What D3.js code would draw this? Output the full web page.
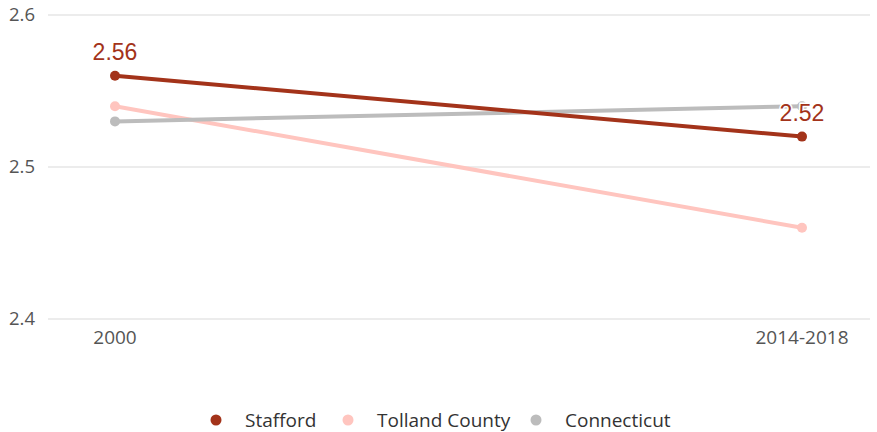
<!DOCTYPE html>
<html><head><meta charset="utf-8">
<script src="https://cdn.jsdelivr.net/npm/d3@7"></script>
<style>body{margin:0;background:#fff}</style>
</head><body><svg id="c" width="877" height="432"></svg>
<script>
const periods = ["2000", "2014-2018"];
const seriesNames = ["Stafford", "Tolland County", "Connecticut"];
const stafford = [2.56, 2.52];
const tolland = [2.54, 2.46];
const connecticut = [2.53, 2.54];
const yTicks = [2.4, 2.5, 2.6];
const colors = ["#a3331a", "#ffc5bf", "#bcbcbc"];

const series = [
  {name: seriesNames[0], values: stafford, color: colors[0], label: true},
  {name: seriesNames[1], values: tolland, color: colors[1]},
  {name: seriesNames[2], values: connecticut, color: colors[2]}
];

const svg = d3.select("#c");
const x = d3.scalePoint().domain(periods).range([115, 802]);
const y = d3.scaleLinear().domain([2.4, 2.6]).range([319, 15]);

svg.append("g").selectAll("line").data(yTicks).join("line")
  .attr("x1", 48).attr("x2", 870)
  .attr("y1", d => y(d)).attr("y2", d => y(d))
  .attr("stroke", "#e6e6e6").attr("stroke-width", 1.5);

svg.append("g").selectAll("text").data(yTicks).join("text")
  .attr("x", 35).attr("y", d => y(d)).attr("dy", "0.35em")
  .attr("text-anchor", "end")
  .attr("font-family", "Open Sans").attr("font-size", 18.5).attr("fill", "#555")
  .text(d => d3.format(".1f")(d));

svg.append("g").selectAll("text").data(periods).join("text")
  .attr("x", d => x(d)).attr("y", 344)
  .attr("text-anchor", "middle")
  .attr("font-family", "Open Sans").attr("font-size", 19).attr("fill", "#555")
  .text(d => d);

const line = d3.line().x((d, i) => x(periods[i])).y(d => y(d));
const drawOrder = [series[1], series[2], series[0]];
drawOrder.forEach(s => {
  const g = svg.append("g");
  g.append("path").datum(s.values).attr("d", line)
    .attr("fill", "none").attr("stroke", s.color).attr("stroke-width", 4);
  g.selectAll("circle").data(s.values).join("circle")
    .attr("cx", (d, i) => x(periods[i])).attr("cy", d => y(d)).attr("r", 5)
    .attr("fill", s.color);
});

const s0 = series[0];
svg.append("g").selectAll("text").data(s0.values).join("text")
  .attr("x", (d, i) => x(periods[i])).attr("y", d => y(d) - 16)
  .attr("text-anchor", "middle")
  .attr("font-family", "Liberation Sans").attr("font-size", 23)
  .attr("fill", s0.color)
  .attr("stroke", "#fff").attr("stroke-width", 3).attr("paint-order", "stroke")
  .text(d => d3.format(".2f")(d));

const legX = [216, 348, 536];
const lg = svg.append("g").selectAll("g").data(series).join("g")
  .attr("transform", (d, i) => `translate(${legX[i]},420)`);
lg.append("circle").attr("r", 5.5).attr("fill", d => d.color);
lg.append("text").attr("x", 29).attr("dy", "0.35em")
  .attr("font-family", "Open Sans").attr("font-size", 19).attr("fill", "#333")
  .text(d => d.name);
</script></body></html>
